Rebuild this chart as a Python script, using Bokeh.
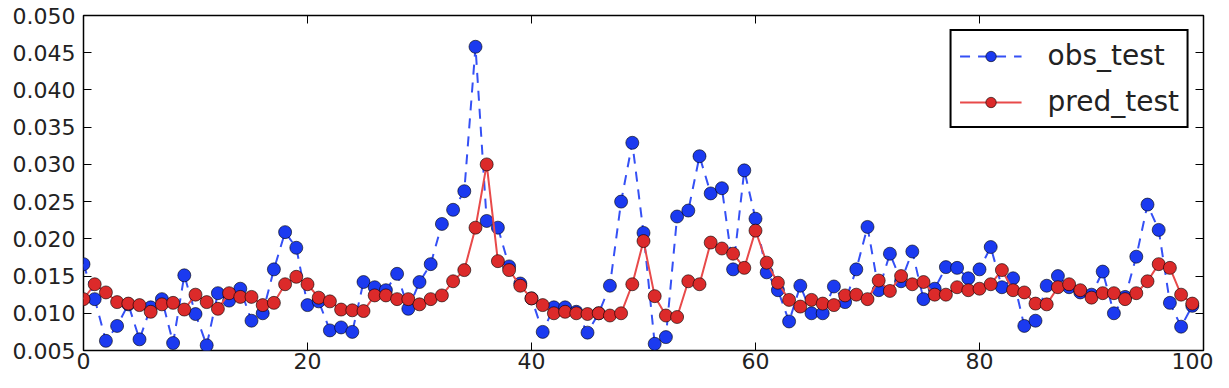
from bokeh.plotting import figure
from bokeh.models import (Legend, LegendItem, LinearAxis, FixedTicker, NumeralTickFormatter,
                          ColumnDataSource, CustomJSTickFormatter)
from bokeh.embed import file_html
from bokeh.resources import INLINE

x_index = list(range(100))

obs_test = [
    0.0166, 0.0119, 0.0063, 0.0083, 0.0112, 0.0065, 0.0108, 0.0119, 0.0060, 0.0151,
    0.0099, 0.0057, 0.0127, 0.0117, 0.0133, 0.0090, 0.0100, 0.0159, 0.0209, 0.0188,
    0.0111, 0.0116, 0.0077, 0.0081, 0.0075, 0.0142, 0.0135, 0.0131, 0.0153, 0.0106,
    0.0142, 0.0166, 0.0220, 0.0239, 0.0264, 0.0458, 0.0224, 0.0215, 0.0163, 0.0140,
    0.0120, 0.0075, 0.0108, 0.0108, 0.0102, 0.0074, 0.0100, 0.0137, 0.0250, 0.0329,
    0.0208, 0.0059, 0.0068, 0.0230, 0.0238, 0.0311, 0.0261, 0.0268, 0.0159, 0.0292,
    0.0227, 0.0155, 0.0131, 0.0089, 0.0137, 0.0100, 0.0100, 0.0136, 0.0115, 0.0159,
    0.0216, 0.0131, 0.0180, 0.0143, 0.0183, 0.0119, 0.0133, 0.0162, 0.0161, 0.0147,
    0.0159, 0.0189, 0.0135, 0.0147, 0.0083, 0.0090, 0.0137, 0.0150, 0.0135, 0.0128,
    0.0125, 0.0156, 0.0100, 0.0122, 0.0176, 0.0246, 0.0212, 0.0114, 0.0082, 0.0110,
]

pred_test = [
    0.0119, 0.0139, 0.0128, 0.0115, 0.0113, 0.0111, 0.0102, 0.0112, 0.0114, 0.0105,
    0.0125, 0.0115, 0.0106, 0.0127, 0.0122, 0.0122, 0.0111, 0.0114, 0.0139, 0.0149,
    0.0139, 0.0121, 0.0116, 0.0105, 0.0104, 0.0103, 0.0124, 0.0124, 0.0119, 0.0119,
    0.0112, 0.0119, 0.0124, 0.0143, 0.0158, 0.0215, 0.0300, 0.0170, 0.0158, 0.0137,
    0.0120, 0.0111, 0.0100, 0.0102, 0.0100, 0.0099, 0.0100, 0.0097, 0.0100, 0.0139,
    0.0197, 0.0123, 0.0097, 0.0095, 0.0143, 0.0139, 0.0195, 0.0187, 0.0180, 0.0161,
    0.0211, 0.0168, 0.0141, 0.0118, 0.0109, 0.0118, 0.0113, 0.0111, 0.0124, 0.0125,
    0.0119, 0.0144, 0.0130, 0.0150, 0.0139, 0.0142, 0.0125, 0.0125, 0.0135, 0.0131,
    0.0133, 0.0139, 0.0158, 0.0131, 0.0128, 0.0113, 0.0112, 0.0135, 0.0139, 0.0131,
    0.0121, 0.0127, 0.0127, 0.0119, 0.0127, 0.0143, 0.0166, 0.0161, 0.0125, 0.0113,
]

x_ticks = [0, 20, 40, 60, 80, 100]
y_ticks = [0.005, 0.010, 0.015, 0.020, 0.025, 0.030, 0.035, 0.040, 0.045, 0.050]

FONT = "DejaVu Sans"
BLUE = "#1b3af0"
RED = "#dc2a2a"

src = ColumnDataSource(dict(x=x_index, obs=obs_test, pred=pred_test))

p = figure(width=1213, height=372, x_range=(0, 100), y_range=(0.005, 0.050),
           output_backend="svg", toolbar_location=None,
           min_border_left=83, min_border_right=10, min_border_top=15, min_border_bottom=22)
p.grid.visible = False
p.background_fill_color = "white"
p.border_fill_color = "white"
p.outline_line_color = "black"
p.outline_line_width = 1.5

obs_line = p.line("x", "obs", source=src, line_color="#3550f5", line_width=2, line_dash="10 8")
obs_pts = p.scatter("x", "obs", source=src, size=13, fill_color=BLUE, line_color="black",
                    line_width=1, line_alpha=0.6)
pred_line = p.line("x", "pred", source=src, line_color="#e84a4a", line_width=2)
pred_pts = p.scatter("x", "pred", source=src, size=13, fill_color=RED, line_color="black",
                     line_width=1, line_alpha=0.6)

def style_axis(ax, ticks, show_labels):
    ax.ticker = FixedTicker(ticks=ticks)
    ax.major_tick_in = 8
    ax.major_tick_out = 0
    ax.minor_tick_line_color = None
    ax.major_tick_line_color = "black"
    ax.major_tick_line_width = 1
    ax.axis_line_color = None
    ax.major_label_text_font = FONT
    ax.major_label_text_color = "#222222"
    ax.major_label_text_font_size = "22px"
    if show_labels:
        ax.major_label_standoff = 2
    else:
        ax.formatter = CustomJSTickFormatter(code="return '';")
        ax.major_label_standoff = 0

style_axis(p.xaxis[0], x_ticks, True)
style_axis(p.yaxis[0], y_ticks, True)
p.yaxis[0].formatter = NumeralTickFormatter(format="0.000")
p.yaxis[0].major_label_standoff = 8

right_ax = LinearAxis()
style_axis(right_ax, y_ticks, False)
p.add_layout(right_ax, "right")
top_ax = LinearAxis()
style_axis(top_ax, x_ticks, False)
p.add_layout(top_ax, "above")

legend = Legend(items=[LegendItem(label="obs_test", renderers=[obs_line, obs_pts]),
                       LegendItem(label="pred_test", renderers=[pred_line, pred_pts])],
                location="top_right")
legend.margin = 14
legend.padding = 8
legend.spacing = 13
legend.glyph_width = 62
legend.glyph_height = 26
legend.label_height = 26
legend.label_standoff = 26
legend.label_text_font = FONT
legend.label_text_font_size = "28px"
legend.label_text_color = "#222222"
legend.border_line_color = "black"
legend.border_line_width = 2
legend.border_line_alpha = 1.0
legend.background_fill_color = "white"
legend.background_fill_alpha = 1.0
p.add_layout(legend)

open("out.html", "w").write(file_html(p, INLINE))
